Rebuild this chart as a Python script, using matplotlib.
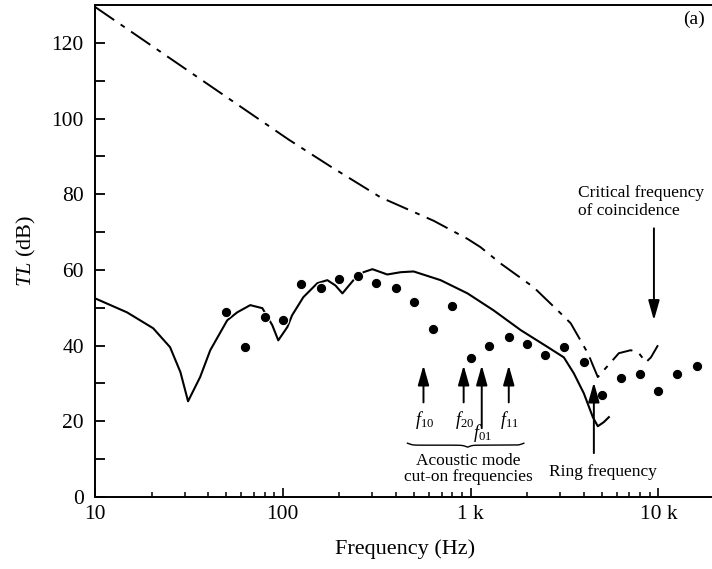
import matplotlib.pyplot as plt
import numpy as np

plt.rcParams['font.family'] = ['Liberation Serif', 'DejaVu Serif']
plt.rcParams['mathtext.fontset'] = 'custom'
plt.rcParams['mathtext.rm'] = 'Liberation Serif'
plt.rcParams['mathtext.it'] = 'Liberation Serif:italic'

# Measured TL in one-third octave bands (dots)
band_freq = [50, 63, 80, 100, 125, 160, 200, 250, 315, 400, 500, 630, 800,
             1000, 1250, 1600, 2000, 2500, 3150, 4000, 5000, 6300, 8000,
             10000, 12500, 16000]
band_tl = [48.8, 39.6, 47.5, 46.7, 56.2, 55.1, 57.5, 58.3, 56.5, 55.1, 51.5,
           44.3, 50.4, 36.7, 39.8, 42.2, 40.4, 37.5, 39.6, 35.6, 26.9, 31.5,
           32.5, 28.0, 32.5, 34.6]

# Predicted TL (solid)
pred_freq = [10, 14.8, 20.4, 25.1, 28.5, 31.3, 36.3, 41.1, 50.6, 57.2, 67.1,
             77.8, 87.9, 94.6, 105.7, 112, 128.6, 152.7, 172.6, 190.6, 207.7,
             220.8, 237.8, 268.8, 300, 360, 424, 497, 692, 963, 1327, 1848,
             2576, 3135, 3542, 4006, 4474, 4755, 5119, 5445]
pred_tl = [52.5, 48.8, 44.6, 39.6, 33.0, 25.3, 31.7, 38.8, 46.7, 48.8, 50.7,
           49.9, 45.4, 41.4, 44.9, 48.0, 52.8, 56.5, 57.3, 55.9, 53.8,
           55.4, 57.3, 59.4, 60.2, 58.8, 59.4, 59.6, 57.3, 53.8, 49.3, 44.1,
           39.6, 36.9, 32.7, 27.4, 21.1, 18.7, 19.8, 21.1]

# Mass-law type estimate (dash-dot)
mass_freq = [10, 107, 180, 331, 635, 963, 1130, 1445, 2168, 3020, 3412, 4207,
             4755, 5580, 6152, 7129, 7870, 8575, 9120, 9940]
mass_tl = [129.5, 94.5, 87.3, 79.2, 73.0, 68.2, 66.0, 61.7, 55.4, 48.5, 45.9,
           38.0, 31.7, 35.6, 38.0, 38.8, 38.0, 35.6, 36.9, 40.1]

# Acoustic mode cut-on frequencies
mode_names = ['$f_{10}$', '$f_{20}$', '$f_{01}$', '$f_{11}$']
mode_freq = [561, 918, 1146, 1596]
mode_tail = [25.0, 25.0, 18.2, 25.0]
mode_label_tl = [20.3, 20.3, 16.9, 20.3]

ring_freq = 4530
critical_freq = 9460

fig = plt.figure(figsize=(7.12, 5.69), dpi=100)
ax = fig.add_axes([0.1334, 0.1265, 0.8708, 0.8647])

ax.plot(mass_freq, mass_tl, color='black', lw=1.4, dashes=(12, 4, 2.5, 4))
ax.plot(pred_freq, pred_tl, color='black', lw=1.5)
ax.plot(band_freq, band_tl, 'o', color='black', ms=7.5, mec='white', mew=0.8)

ax.set_xscale('log')
ax.set_xlim(10, 20000)
ax.set_ylim(0, 130)
ax.set_xticks([10, 100, 1000, 10000])
ax.set_xticklabels(['10', '100', '1 k', '10 k'])
ax.set_yticks(np.arange(0, 121, 20))
ax.set_yticks(np.arange(10, 130, 20), minor=True)
ax.tick_params(axis='both', which='both', direction='in', labelsize=15.5)
ax.tick_params(axis='y', which='both', length=7, width=1.3, pad=8)
ax.tick_params(axis='x', which='major', length=6.5, width=1.2, pad=6)
ax.tick_params(axis='x', which='minor', length=3.6, width=1.1)
ax.tick_params(top=False, right=False, which='both')
for s in ax.spines.values():
    s.set_linewidth(1.4)

ax.set_xlabel('Frequency (Hz)', fontsize=16, labelpad=11)
ax.set_ylabel('$\\mathit{TL}$ (dB)', fontsize=16, labelpad=10)

ax.text(0.966, 0.97, '(a)', transform=ax.transAxes, fontsize=14,
        ha='center', va='center')

arrow = dict(arrowstyle='-|>,head_length=0.6,head_width=0.17', color='black',
             lw=1.4, shrinkA=0, shrinkB=0, mutation_scale=20)

# mode cut-on arrows and labels
for name, f, tail, lab in zip(mode_names, mode_freq, mode_tail, mode_label_tl):
    ax.annotate('', xy=(f, 34.8), xytext=(f, tail), arrowprops=arrow)
    ax.text(f * 1.01, lab, name, fontsize=13, ha='center', va='center')

# curly brace under the mode labels
lo, hi, mid = np.log10(461), np.log10(1919), np.log10(964)
xs = np.linspace(lo, hi, 200)
half = np.where(xs < mid, (xs - lo) / (mid - lo), (hi - xs) / (hi - mid))
ys = 13.7 + 0.8 * (1 / (1 + np.exp(-30 * (half - 0.02))) - 1) * -1 \
    - 0.8 * (1 / (1 + np.exp(-30 * (half - 0.98))))
ax.plot(10 ** xs, ys, color='black', lw=1.0)

ax.text(974, 7.4, 'Acoustic mode\ncut-on frequencies', fontsize=12.5,
        ha='center', va='center', linespacing=1.05)

ax.annotate('', xy=(ring_freq, 30.3), xytext=(ring_freq, 11.6), arrowprops=arrow)
ax.text(5058, 6.6, 'Ring frequency', fontsize=12.5, ha='center', va='center')

ax.annotate('', xy=(critical_freq, 46.7), xytext=(critical_freq, 71),
            arrowprops=arrow)
ax.text(3725, 77.9, 'Critical frequency\nof coincidence', fontsize=12.5,
        ha='left', va='center', linespacing=1.2)

plt.savefig('out.png', dpi=100)
